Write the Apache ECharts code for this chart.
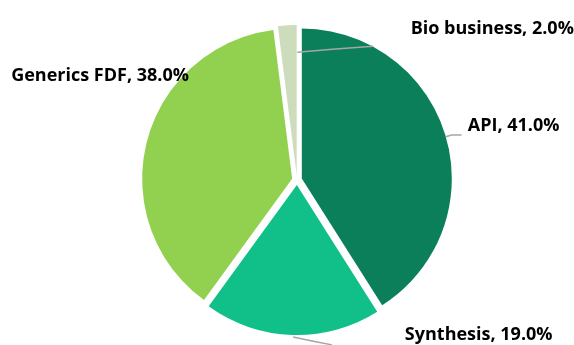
<!DOCTYPE html>
<html>
<head>
<meta charset="utf-8">
<script src="https://cdn.jsdelivr.net/npm/echarts@6/dist/echarts.min.js"></script>
<style>
  html, body { margin: 0; padding: 0; background: #fff; }
  #chart { width: 574px; height: 345px; }
</style>
</head>
<body>
<div id="chart"></div>
<script>
// Revenue split by business segment (%)
const segments = ['API', 'Synthesis', 'Generics FDF', 'Bio business'];
const shares = [41.0, 19.0, 38.0, 2.0];
const segmentColors = ['#0b7f5a', '#10c088', '#92d050', '#cddcba'];

// Caption placement per segment: left edge x and vertical centre y
const labelSpots = [
  { x: 463, y: 127 },
  { x: 405, y: 330 },
  { x: 16, y: 77 },
  { x: 411, y: 34 }
];

const chart = echarts.init(document.getElementById('chart'), null, { renderer: 'canvas' });

// Leader line shapes, as offsets from the point where the line leaves the slice
function leaderLine(i, pts) {
  const [x0, y0] = pts[0];
  if (i === 1) {          // Synthesis: runs down-right off the bottom
    return [[x0 + 1, y0 + 2], [x0 + 20, y0 + 6], [x0 + 40, y0 + 10]];
  }
  if (i === 3) {          // Bio business: crosses the top of the API slice
    return [[x0 + 10, y0 + 27], [x0 + 45, y0 + 24], [x0 + 86, y0 + 21]];
  }
  return pts;
}

const GAP = 5; // pie default distanceToLabelLine

chart.setOption({
  animation: false,
  series: [{
    type: 'pie',
    center: [297, 180],
    radius: 150,
    startAngle: 90,
    clockwise: true,
    selectedMode: 'multiple',
    selectedOffset: 5,
    avoidLabelOverlap: false,
    data: segments.map((name, i) => ({
      name,
      value: shares[i],
      selected: true,
      itemStyle: { color: segmentColors[i] },
      labelLine: { show: i !== 2 }
    })),
    emphasis: { disabled: true },
    label: {
      show: true,
      position: 'outside',
      distanceToLabelLine: GAP,
      formatter: p => p.name + ', ' + p.value.toFixed(1) + '%',
      fontFamily: '"Open Sans", sans-serif',
      fontWeight: 'bold',
      fontSize: 18,
      color: '#000'
    },
    labelLine: {
      show: true,
      showAbove: true,
      length: 6,
      length2: 10,
      lineStyle: { color: '#a6a6a6', width: 1.5 }
    },
    labelLayout: p => {
      const lp = p.labelLinePoints;
      const spot = labelSpots[p.dataIndex];
      const w = p.labelRect.width;
      const leftSide = lp[2][0] < lp[1][0];
      const defaultLeft = leftSide ? lp[2][0] - GAP - w : lp[2][0] + GAP;
      return {
        dx: spot.x - defaultLeft,
        dy: spot.y - lp[2][1],
        labelLinePoints: leaderLine(p.dataIndex, lp)
      };
    }
  }]
});

// Selected slices are lifted in z2, which hides leader lines under neighbouring
// slices; raise the guide lines so they stay on top of every slice.
try {
  const zr = chart.getZr();
  zr.storage.getDisplayList(true).forEach(el => {
    if (el.type === 'polyline') {
      el.z2 = 100;
      el.markRedraw();
    }
  });
  zr.refreshImmediately();
} catch (e) { /* leave default ordering */ }
</script>
</body>
</html>
